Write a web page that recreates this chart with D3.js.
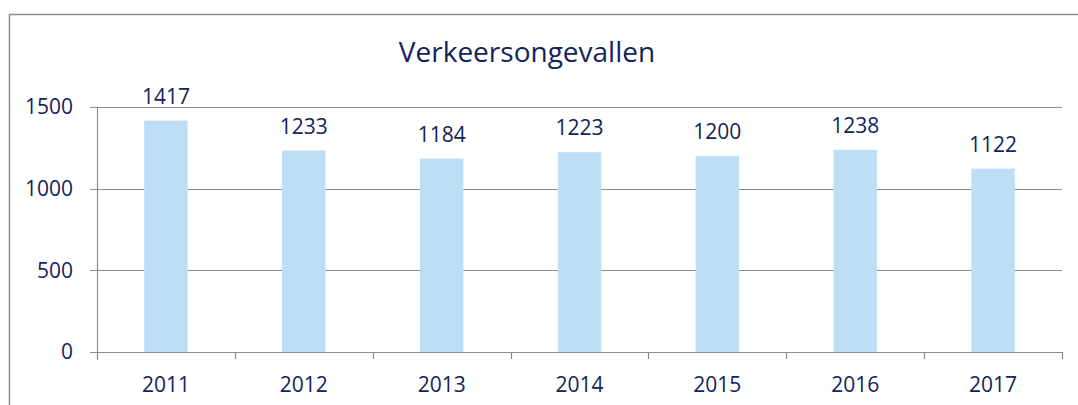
<!DOCTYPE html>
<html>
<head>
<meta charset="utf-8">
<script src="https://cdn.jsdelivr.net/npm/d3@7"></script>
<style>
  body { margin: 0; background: #fff; }
  svg { display: block; font-family: "Open Sans", sans-serif; }
</style>
</head>
<body>
<svg id="chart"></svg>
<script>
// Chart data
var years = ["2011", "2012", "2013", "2014", "2015", "2016", "2017"];
var accidents = [1417, 1233, 1184, 1223, 1200, 1238, 1122];
var yTicks = [0, 500, 1000, 1500];
var chartTitle = "Verkeersongevallen";

// Size & plot area
var chartWidth = 1078,
  chartHeight = 405,
  plotLeft = 97,
  plotRight = 1062,
  plotTop = 107,
  plotBottom = 352;

var textColour = "#12245a",
  gridColour = "#8c8c8c",
  barColour = "#bddef5";

var svg = d3.select("#chart")
  .attr("width", chartWidth)
  .attr("height", chartHeight);

// Outer frame (runs off the bottom/right of the picture)
svg.append("rect")
  .attr("x", 9.5)
  .attr("y", 14.5)
  .attr("width", 1090)
  .attr("height", 420)
  .attr("fill", "none")
  .attr("stroke", gridColour)
  .attr("stroke-width", 1.5);

// Scales
var x = d3.scaleBand()
  .domain(years)
  .range([plotLeft, plotRight])
  .paddingInner(0.685)
  .paddingOuter(0.3425);

var xCat = d3.scaleBand()
  .domain(years)
  .range([plotLeft, plotRight]);

var y = d3.scaleLinear()
  .domain([0, 1500])
  .range([plotBottom, plotTop]);

// Gridlines
svg.append("g")
  .selectAll("line")
  .data(yTicks)
  .enter()
  .append("line")
  .attr("x1", plotLeft - 7)
  .attr("x2", plotRight)
  .attr("y1", function (d) { return Math.round(y(d)) + 0.5; })
  .attr("y2", function (d) { return Math.round(y(d)) + 0.5; })
  .attr("stroke", gridColour)
  .attr("stroke-width", 1.2);

// Y axis line
svg.append("line")
  .attr("x1", plotLeft + 0.5)
  .attr("x2", plotLeft + 0.5)
  .attr("y1", plotTop)
  .attr("y2", plotBottom + 8)
  .attr("stroke", gridColour)
  .attr("stroke-width", 1.2);

// X category ticks
var xBounds = years.map(function (d) { return xCat(d) + xCat.bandwidth(); });
svg.append("g")
  .selectAll("line")
  .data(xBounds)
  .enter()
  .append("line")
  .attr("x1", function (d) { return Math.round(d) + 0.5; })
  .attr("x2", function (d) { return Math.round(d) + 0.5; })
  .attr("y1", plotBottom)
  .attr("y2", plotBottom + 7)
  .attr("stroke", gridColour)
  .attr("stroke-width", 1.2);

// Y tick labels
svg.append("g")
  .selectAll("text")
  .data(yTicks)
  .enter()
  .append("text")
  .attr("x", 73)
  .attr("y", function (d) { return y(d); })
  .attr("dy", "0.35em")
  .attr("text-anchor", "end")
  .attr("fill", textColour)
  .style("font-size", "21px")
  .text(function (d) { return d; });

// Bars
svg.append("g")
  .selectAll("rect")
  .data(accidents)
  .enter()
  .append("rect")
  .attr("x", function (d, i) { return x(years[i]); })
  .attr("width", x.bandwidth())
  .attr("y", function (d) { return y(d); })
  .attr("height", function (d) { return y(0) - y(d); })
  .attr("fill", barColour);

// Value labels
svg.append("g")
  .selectAll("text")
  .data(accidents)
  .enter()
  .append("text")
  .attr("x", function (d, i) { return x(years[i]) + x.bandwidth() / 2; })
  .attr("y", function (d) { return y(d) - 17; })
  .attr("text-anchor", "middle")
  .attr("fill", textColour)
  .style("font-size", "21px")
  .text(function (d) { return d; });

// X labels
svg.append("g")
  .selectAll("text")
  .data(years)
  .enter()
  .append("text")
  .attr("x", function (d) { return xCat(d) + xCat.bandwidth() / 2; })
  .attr("y", 392)
  .attr("text-anchor", "middle")
  .attr("fill", textColour)
  .style("font-size", "21px")
  .text(function (d) { return d; });

// Title
svg.append("text")
  .attr("x", 527)
  .attr("y", 62)
  .attr("text-anchor", "middle")
  .attr("fill", textColour)
  .style("font-size", "28px")
  .text(chartTitle);
</script>
</body>
</html>
